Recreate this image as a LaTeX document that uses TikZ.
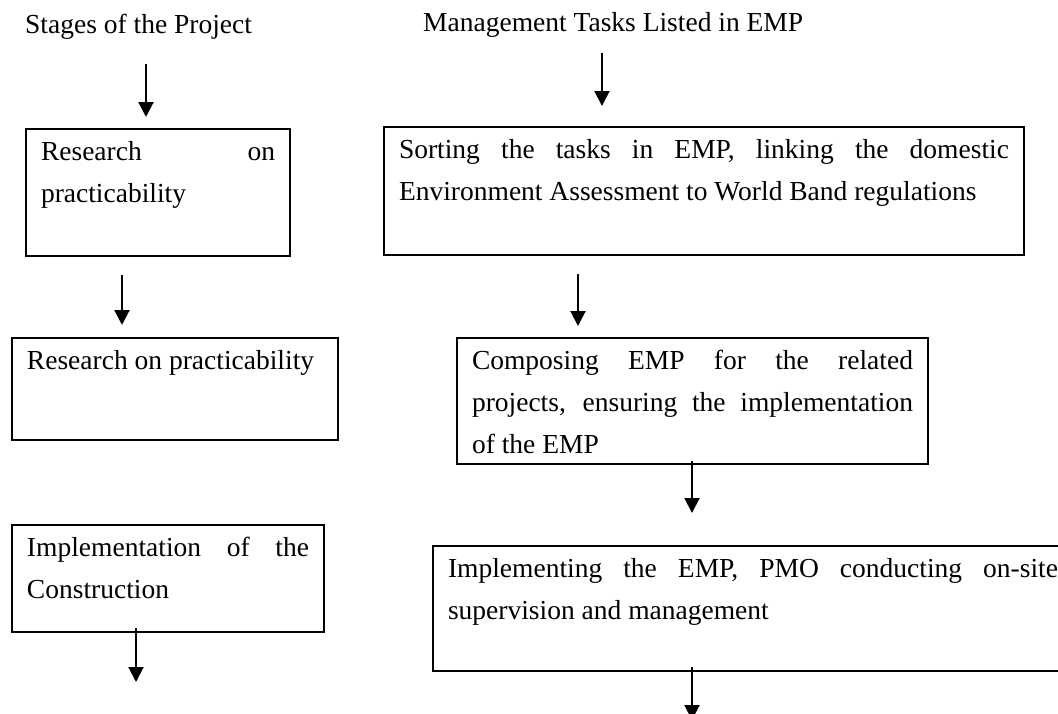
\documentclass[tikz,border=0pt]{standalone}
\usepackage{fontspec}
\setmainfont{Liberation Serif}
\usetikzlibrary{arrows.meta,positioning,calc}
\hyphenpenalty=10000
\exhyphenpenalty=10000

\begin{document}
\begin{tikzpicture}[x=1pt, y=1pt,
        heading/.style={anchor=base west, inner sep=0pt, font=\fontsize{27.5}{42}\selectfont},
        stage/.style={rectangle, draw, line width=2pt, anchor=north west, align=justify, inner xsep=15pt, inner ysep=0pt, text height=31pt, font=\fontsize{27.5}{42}\selectfont},
        arrow/.style={-{Triangle[length=15pt, width=15pt]}, line width=2pt}
    ]
        \useasboundingbox (0,0) rectangle (1058,-713);

        % Headings
        \node[heading] (stages) at (25,-33) {Stages of the Project};
        \node[heading] (mgmt) at (423,-31) {Management Tasks Listed in EMP};

        % Stages of the project
        \node[stage, text width=234pt, text depth=96pt] (l1) at (25,-128) {Research on\linebreak practicability};
        \node[stage, text width=296pt, text depth=71pt] (l2) at (11,-337) {Research on practicability};
        \node[stage, text width=282pt, text depth=76pt] (l3) at (11,-524) {Implementation of the\linebreak Construction};

        % Management tasks in EMP
        \node[stage, text width=610pt, text depth=97pt] (r1) at (383,-126) {Sorting the tasks in EMP, linking the domestic Environment Assessment to World Band regulations};
        \node[stage, text width=441pt, text depth=95pt] (r2) at (456,-337) {Composing EMP for the related\linebreak projects, ensuring the implementation\linebreak of the EMP};
        \node[stage, text width=610pt, text depth=94pt] (r3) at (432,-545) {Implementing the EMP, PMO conducting on-site\linebreak supervision and management};

        % Arrows
        \draw[arrow] ($(l1.north |- stages.south)+(-12,-25)$) -- ($(l1.north)+(-12,11)$);
        \draw[arrow] ($(l2.north |- l1.south)+(-53,-18)$) -- ($(l2.north)+(-53,12)$);
        \draw[arrow] ($(l3.south)+(-32,5)$) -- ($(l3.south)+(-32,-49)$);
        \draw[arrow] ($(r1.north |- mgmt.south)+(-102,-16)$) -- ($(r1.north)+(-102,20)$);
        \draw[arrow] ($(r2.north |- r1.south)+(-114.5,-18)$) -- ($(r2.north)+(-114.5,11)$);
        \draw[arrow] ($(r2.south)+(-0.5,4)$) -- ($(r3.north -| r2.south)+(-0.5,32)$);
        \draw[arrow] ($(r3.south -| r2.south)+(-0.5,5)$) -- ($(r3.south -| r2.south)+(-0.5,-48)$);
    \end{tikzpicture}
\end{document}
